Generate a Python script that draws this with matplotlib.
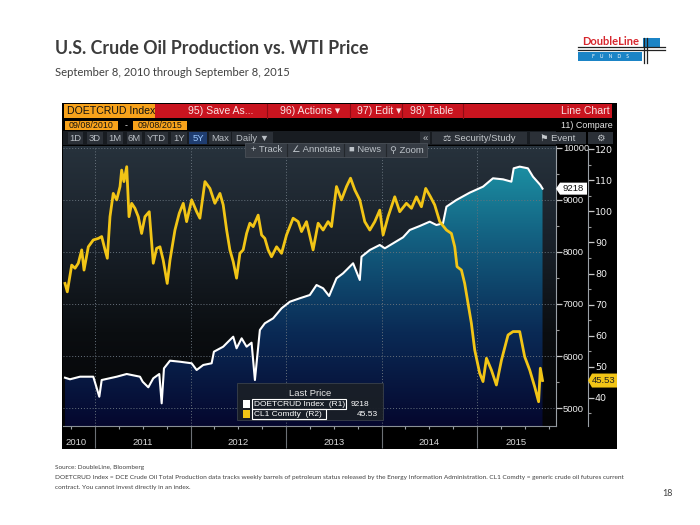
import numpy as np
import matplotlib.pyplot as plt
from matplotlib.patches import Rectangle, Polygon
from matplotlib.colors import LinearSegmentedColormap

# ---------------- data (time in fractional years) ----------------
prod_t = [2010.686, 2010.738, 2010.843, 2010.982, 2011.045, 2011.070, 2011.227,
          2011.332, 2011.471, 2011.499, 2011.558, 2011.610, 2011.673, 2011.698,
          2011.722, 2011.785, 2011.889, 2012.012, 2012.064, 2012.133, 2012.221,
          2012.245, 2012.342, 2012.394, 2012.447, 2012.482, 2012.535, 2012.587,
          2012.639, 2012.674, 2012.726, 2012.778, 2012.865, 2012.953, 2013.040,
          2013.144, 2013.249, 2013.319, 2013.388, 2013.451, 2013.528, 2013.597,
          2013.702, 2013.772, 2013.790, 2013.877, 2013.981, 2014.034, 2014.121,
          2014.225, 2014.295, 2014.400, 2014.504, 2014.574, 2014.643, 2014.679,
          2014.783, 2014.923, 2015.062, 2015.166, 2015.271, 2015.359, 2015.383,
          2015.446, 2015.532, 2015.585, 2015.662, 2015.685]
prod_v = [5583, 5552, 5602, 5602, 5217, 5538, 5602,
          5654, 5602, 5506, 5398, 5571, 5654, 5090,
          5763, 5910, 5890, 5860, 5731, 5827, 5860,
          6083, 6179, 6275, 6371, 6148, 6340, 6179,
          6256, 5538, 6500, 6629, 6725, 6917, 7044,
          7110, 7173, 7365, 7302, 7154, 7494, 7590,
          7783, 7462, 7910, 8038, 8135, 8071, 8167,
          8282, 8423, 8500, 8583, 8519, 8551, 8871,
          9000, 9141, 9256, 9417, 9397, 9352, 9609,
          9641, 9609, 9448, 9288, 9218]

wti_t = [2010.686, 2010.710, 2010.756, 2010.791, 2010.825, 2010.861, 2010.885,
         2010.930, 2010.982, 2011.035, 2011.070, 2011.105, 2011.129, 2011.157,
         2011.191, 2011.227, 2011.262, 2011.279, 2011.303, 2011.332, 2011.356,
         2011.384, 2011.418, 2011.453, 2011.488, 2011.523, 2011.568, 2011.610,
         2011.645, 2011.680, 2011.714, 2011.756, 2011.785, 2011.837, 2011.882,
         2011.924, 2011.959, 2012.012, 2012.064, 2012.098, 2012.151, 2012.203,
         2012.255, 2012.308, 2012.342, 2012.378, 2012.412, 2012.447, 2012.482,
         2012.517, 2012.551, 2012.587, 2012.621, 2012.656, 2012.708, 2012.744,
         2012.778, 2012.813, 2012.848, 2012.901, 2012.953, 2013.005, 2013.074,
         2013.127, 2013.162, 2013.214, 2013.283, 2013.336, 2013.388, 2013.440,
         2013.476, 2013.528, 2013.580, 2013.633, 2013.675, 2013.720, 2013.772,
         2013.824, 2013.877, 2013.929, 2013.981, 2014.016, 2014.068, 2014.138,
         2014.190, 2014.260, 2014.313, 2014.365, 2014.417, 2014.462, 2014.512,
         2014.556, 2014.609, 2014.679, 2014.731, 2014.766, 2014.790, 2014.836,
         2014.870, 2014.905, 2014.940, 2014.975, 2015.027, 2015.062, 2015.098,
         2015.150, 2015.202, 2015.255, 2015.324, 2015.376, 2015.446, 2015.498,
         2015.551, 2015.603, 2015.644, 2015.662, 2015.685]
wti_v = [76.8, 74.1, 82.7, 81.7, 83.3, 87.6, 81.1,
         88.6, 90.8, 91.3, 91.9, 87.6, 84.9, 98.3,
         105.8, 103.7, 108.0, 113.3, 109.6, 114.4, 98.3,
         102.6, 101.0, 98.3, 92.9, 98.3, 99.9, 83.3,
         88.1, 88.6, 84.3, 76.8, 84.3, 94.0, 99.4,
         102.6, 96.7, 103.7, 99.9, 97.8, 109.6, 107.4,
         102.6, 105.8, 102.1, 94.0, 87.6, 83.8, 78.5,
         86.5, 87.6, 92.9, 96.2, 95.1, 98.8, 92.4,
         91.3, 87.6, 85.4, 88.6, 86.5, 92.4, 97.8,
         96.7, 93.5, 96.7, 87.6, 96.2, 94.0, 96.7,
         95.1, 108.0, 103.7, 108.0, 110.7, 106.9, 103.7,
         96.7, 94.0, 96.7, 100.4, 92.4, 98.3, 104.7,
         99.9, 102.6, 101.0, 104.7, 101.5, 107.4, 104.7,
         102.1, 96.7, 94.0, 92.9, 88.6, 82.2, 81.1,
         76.8, 70.4, 64.0, 55.4, 47.9, 45.2, 52.7,
         48.9, 44.1, 52.1, 60.2, 61.3, 61.3, 53.2,
         48.9, 43.5, 38.7, 49.5, 45.53]

year_labels = ["2010", "2011", "2012", "2013", "2014", "2015"]
year_label_pos = [2010.80, 2011.5, 2012.5, 2013.5, 2014.5, 2015.41]
year_bounds = [2011, 2012, 2013, 2014, 2015]
prod_ticks = [5000, 6000, 7000, 8000, 9000, 10000]
wti_ticks = [40, 50, 60, 70, 80, 90, 100, 110, 120]
last_prod = "9218"
last_wti = "45.53"

BB = ["Liberation Sans", "DejaVu Sans"]
PPT = ["Lato", "DejaVu Sans"]
FS = 6.8

fig = plt.figure(figsize=(7, 5.25), dpi=100, facecolor="w")

# pixel-coordinate overlay (background)
bg = fig.add_axes([0, 0, 1, 1], zorder=0)
bg.set_xlim(0, 700)
bg.set_ylim(525, 0)
bg.axis("off")


def box(a, x0, y0, x1, y1, fc, ec="none", lw=0.6, z=1, alpha=1):
    a.add_patch(Rectangle((x0, y0), x1 - x0, y1 - y0, facecolor=fc,
                          edgecolor=ec, lw=lw, zorder=z, alpha=alpha))


# page text
bg.text(55, 48, "U.S. Crude Oil Production vs. WTI Price", fontsize=12.8,
        fontweight="bold", color="#3c3c3c", family=PPT, va="center")
bg.text(55, 73, "September 8, 2010 through September 8, 2015", fontsize=8.1,
        color="#404040", family=PPT, va="center")
bg.text(55, 468, "Source: DoubleLine, Bloomberg", fontsize=4.6, color="#404040",
        family=PPT, va="center")
bg.text(55, 478, "DOETCRUD Index = DCE Crude Oil Total Production data tracks weekly "
        "barrels of petroleum status released by the Energy Information Administration. "
        "CL1 Comdty = generic crude oil futures current", fontsize=4.65,
        color="#404040", family=PPT, va="center")
bg.text(55, 487, "contract. You cannot invest directly in an index.", fontsize=4.65,
        color="#404040", family=PPT, va="center")
bg.text(662, 493, "18", fontsize=6.5, color="#404040", family=PPT, va="center")

# DoubleLine logo
box(bg, 578, 52, 642, 61, "#1b84c6")
box(bg, 643, 38, 660, 47, "#1b84c6")
bg.plot([578, 665], [47, 47], color="#222222", lw=0.9)
bg.plot([578, 665], [49.5, 49.5], color="#222222", lw=0.9)
bg.plot([644, 644], [38, 63], color="#222222", lw=0.9)
bg.plot([647, 647], [38, 63], color="#222222", lw=0.9)
bg.text(611, 41.5, "DoubleLine", fontsize=8, fontweight="bold", color="#d7262d",
        family=PPT, ha="center", va="center")
bg.text(610, 56.5, "F    U    N    D    S", fontsize=3.6, color="white",
        family=PPT, ha="center", va="center")

# Bloomberg panel
box(bg, 62, 103, 617, 449, "#000000")
box(bg, 155, 104, 612, 118, "#c9141f")
box(bg, 64, 104, 155, 118, "#f7a21b")
for sx in [267, 350, 402, 463]:
    bg.plot([sx, sx], [104, 118], color="#8e0c14", lw=0.8)
hdr = dict(fontsize=7.6, family=BB, va="center", color="#f8e4e4")
bg.text(67, 111, "DOETCRUD Index", fontsize=7.6, family=BB, va="center", color="#111111")
bg.text(188, 111, "95) Save As...", **hdr)
bg.text(280, 111, "96) Actions ▾", **hdr)
bg.text(357, 111, "97) Edit ▾", **hdr)
bg.text(410, 111, "98) Table", **hdr)
bg.text(610, 111, "Line Chart", ha="right", **hdr)

box(bg, 65, 120.5, 118, 130, "#f7a21b")
box(bg, 133, 120.5, 187, 130, "#f7a21b")
bg.text(91.5, 125.5, "09/08/2010", fontsize=6.4, family=BB, ha="center", va="center", color="#111")
bg.text(126, 125.5, "-", fontsize=6.4, family=BB, ha="center", va="center", color="#ddd")
bg.text(160, 125.5, "09/08/2015", fontsize=6.4, family=BB, ha="center", va="center", color="#111")
bg.text(613, 125.5, "11) Compare", fontsize=6.4, family=BB, ha="right", va="center", color="#e8e8e8")

# button row
box(bg, 63, 131, 556, 145, "#181c21")
buttons = [("1D", 68, 83), ("3D", 87, 103), ("1M", 107, 123), ("6M", 127, 142),
           ("YTD", 145, 168), ("1Y", 171, 187), ("5Y", 189, 207), ("Max", 209, 231),
           ("Daily ▼", 232, 273)]
for lab, x0, x1 in buttons:
    sel = lab == "5Y"
    box(bg, x0, 132, x1, 144, "#1f3d70" if sel else "#2b3037")
    bg.text((x0 + x1) / 2, 138.5, lab, fontsize=FS, family=BB, ha="center",
            va="center", color="#9cc8ff" if sel else "#b9bec4")
for lab, x0, x1 in [("«", 420, 430), ("⚖ Security/Study", 432, 527),
                    ("⚑ Event", 530, 586), ("⚙", 588, 613)]:
    box(bg, x0, 132, x1, 144, "#2b3037")
    bg.text((x0 + x1) / 2, 138.5, lab, fontsize=FS, family=BB, ha="center",
            va="center", color="#c4c8cc")

# ---------------- chart axes ----------------
x0d, x1d = 2010.665, 2015.826
ax = fig.add_axes([63 / 700, 1 - 426 / 525, 493 / 700, 280 / 525], zorder=2)
ax2 = ax.twinx()
ax2.set_zorder(3)
ax.patch.set_visible(False)
ax2.patch.set_visible(False)

bg_cmap = LinearSegmentedColormap.from_list("bg", ["#040406", "#0b0e11", "#19212a", "#27323c"])
grad = np.linspace(0, 1, 256).reshape(-1, 1)
ax.imshow(grad, extent=[x0d, x1d, 4654, 10038], origin="lower", aspect="auto",
          cmap=bg_cmap, zorder=0)

fill_cmap = LinearSegmentedColormap.from_list("fill", ["#05072e", "#0a2a55", "#135f80", "#1e9cac"])
fimg = ax.imshow(grad, extent=[x0d, x1d, 4654, 10038], origin="lower", aspect="auto",
                 cmap=fill_cmap, zorder=1)
verts = list(zip(prod_t, prod_v)) + [(prod_t[-1], 4654), (prod_t[0], 4654)]
clip = Polygon(verts, closed=True, facecolor="none", edgecolor="none", transform=ax.transData)
ax.add_patch(clip)
fimg.set_clip_path(clip)
ax.plot(prod_t, prod_v, color="white", lw=1.5, zorder=3)

ax.set_xlim(x0d, x1d)
ax.set_ylim(4654, 10038)
ax.yaxis.tick_right()
ax.set_yticks(prod_ticks)
ax.set_yticks([t + 500 for t in prod_ticks[:-1]], minor=True)
ax.tick_params(axis="y", which="both", left=False, labelleft=False,
               right=True, labelright=True)
ax.tick_params(axis="y", which="major", direction="out", length=4, width=0.9,
               color="#c8c8c8", labelcolor="#eeeeee", labelsize=FS, pad=1)
ax.tick_params(axis="y", which="minor", direction="out", length=2.5, width=0.8,
               color="#9a9a9a")
for lab in ax.get_yticklabels():
    lab.set_family(BB)
ax.set_xticks(year_bounds)
ax.set_xticklabels([])
ax.set_xticks(np.arange(2010.75, 2015.8, 0.25), minor=True)
ax.tick_params(axis="x", which="major", direction="out", length=16, width=0.8,
               color="#6c7076")
ax.tick_params(axis="x", which="minor", direction="out", length=2.5, width=0.8,
               color="#9aa0a6")
ax.grid(True, which="major", color="#67727c", linestyle=(0, (1, 2)), lw=0.7)
for s in ["top", "left"]:
    ax.spines[s].set_visible(False)
ax.spines["bottom"].set_color("#8a9096")
ax.spines["right"].set_color("#9aa0a6")
for lab, pos in zip(year_labels, year_label_pos):
    ax.text(pos, -0.06, lab, transform=ax.get_xaxis_transform(), ha="center",
            va="center", fontsize=FS, color="#d8d8d8", family=BB)

ax2.plot(wti_t, wti_v, color="#f2c516", lw=2.0, zorder=4)
ax2.set_xlim(x0d, x1d)
ax2.set_ylim(30.89, 121.06)
ax2.set_yticks(wti_ticks)
ax2.set_yticks([t + 5 for t in [30] + wti_ticks[:-1]], minor=True)
ax2.tick_params(axis="y", which="major", direction="out", length=4, width=0.9,
                color="#c8c8c8", labelcolor="#eeeeee", labelsize=FS, pad=1)
ax2.tick_params(axis="y", which="minor", direction="out", length=2.5, width=0.8,
                color="#9a9a9a")
for lab in ax2.get_yticklabels():
    lab.set_family(BB)
ax2.spines["right"].set_position(("outward", 23))
ax2.spines["right"].set_color("#9aa0a6")
for s in ["top", "left", "bottom"]:
    ax2.spines[s].set_visible(False)

# ---------------- foreground overlay ----------------
fg = fig.add_axes([0, 0, 1, 1], zorder=10)
fg.set_xlim(0, 700)
fg.set_ylim(525, 0)
fg.axis("off")

# toolbar overlay
box(fg, 245, 143, 427, 157, "#363c44", ec="#4a5058")
for lab, cx in [("+ Track", 267), ("∠ Annotate", 316), ("■ News", 365), ("⚲ Zoom", 407)]:
    fg.text(cx, 150, lab, fontsize=FS, family=BB, ha="center", va="center", color="#bcc2c8")
for sx in [287, 344, 386]:
    fg.plot([sx, sx], [144, 156], color="#23272c", lw=0.8)

# last value flags (y located via the axes scales)
py = 525 - ax.transData.transform((x1d, int(last_prod)))[1]
fg.add_patch(Polygon([(556, py), (560, py - 6), (587, py - 6), (587, py + 6), (560, py + 6)],
                     closed=True, facecolor="white", edgecolor="none"))
fg.text(573, py, last_prod, fontsize=FS, family=BB, ha="center", va="center", color="#111")
py2 = 525 - ax2.transData.transform((x1d, float(last_wti)))[1]
fg.add_patch(Polygon([(588, py2), (592, py2 - 7), (617, py2 - 7), (617, py2 + 7), (592, py2 + 7)],
                     closed=True, facecolor="#f2c516", edgecolor="none"))
fg.text(604, py2, last_wti, fontsize=FS, family=BB, ha="center", va="center", color="#222")

# legend
box(fg, 237, 383, 383, 420, "#1a1f27", ec="#3c434c", alpha=0.95)
fg.text(310, 393.5, "Last Price", fontsize=FS, family=BB, ha="center", va="center", color="#e6e6e6")
box(fg, 243, 400, 250, 408, "white")
box(fg, 252, 399, 346, 409, "none", ec="white", lw=0.8)
fg.text(254, 404, "DOETCRUD Index  (R1)", fontsize=6.0, family=BB, va="center", color="white")
fg.text(351, 404, last_prod, fontsize=6.0, family=BB, va="center", color="white")
box(fg, 243, 410, 250, 418, "#f2c516")
box(fg, 252, 409, 326, 419, "none", ec="white", lw=0.8)
fg.text(254, 414, "CL1 Comdty  (R2)", fontsize=6.0, family=BB, va="center", color="white")
fg.text(378, 414, last_wti, fontsize=6.0, family=BB, ha="right", va="center", color="white")

plt.savefig("out.png", dpi=100, facecolor="w")
